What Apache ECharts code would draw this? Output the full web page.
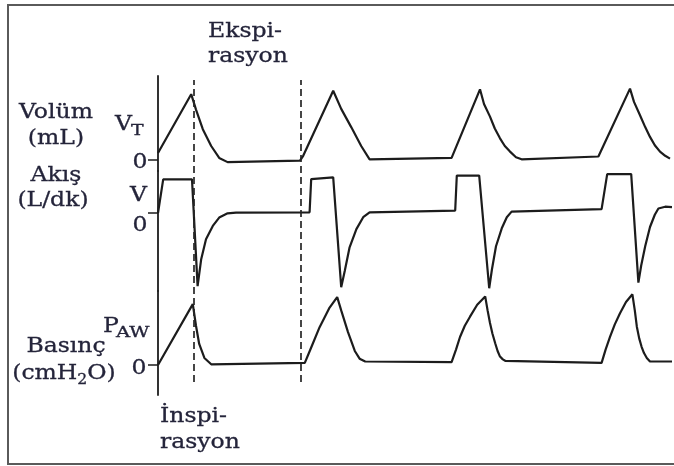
<!DOCTYPE html>
<html>
<head>
<meta charset="utf-8">
<script src="https://cdn.jsdelivr.net/npm/echarts@6/dist/echarts.min.js"></script>
<style>
  html, body { margin: 0; padding: 0; background: #ffffff; }
  #chart { width: 674px; height: 466px; }
</style>
</head>
<body>
<div id="chart"></div>
<script>
// Time base shared by all three traces (seconds)
const timeMax = 12.85;

// Volume trace, as a fraction of tidal volume V_T
const volumeTime  = [0, 0.83, 0.95, 1.12, 1.33, 1.53, 1.74, 3.55, 3.63, 4.38, 4.58, 4.83, 5.08, 5.29, 7.34, 8.05, 8.15, 8.3, 8.42, 8.55, 8.67, 8.8, 8.95, 9.09, 11.01, 11.8, 11.9, 12.05, 12.18, 12.3, 12.42, 12.55, 12.68, 12.8];
const volumeValue = [0.10, 0.94, 0.72, 0.44, 0.20, 0.03, -0.03, -0.01, 0.06, 0.99, 0.73, 0.47, 0.20, 0.01, 0.03, 1.01, 0.80, 0.62, 0.45, 0.31, 0.20, 0.12, 0.04, 0.01, 0.05, 1.02, 0.83, 0.64, 0.47, 0.33, 0.21, 0.12, 0.06, 0.02];

// Flow trace, as a fraction of the set inspiratory flow V
const flowTime  = [0, 0.13, 0.85, 0.99, 1.08, 1.2, 1.37, 1.53, 1.74, 1.95, 3.79, 3.83, 4.38, 4.58, 4.67, 4.79, 4.96, 5.13, 5.29, 7.43, 7.47, 8.03, 8.28, 8.35, 8.45, 8.6, 8.72, 8.84, 11.09, 11.23, 11.83, 12.01, 12.08, 12.18, 12.3, 12.42, 12.51, 12.68, 12.85];
const flowValue = [0, 0.96, 0.96, -2.09, -1.32, -0.75, -0.37, -0.13, -0.01, 0.01, 0.02, 0.97, 1.02, -2.12, -1.65, -0.98, -0.46, -0.12, 0.02, 0.07, 1.07, 1.07, -2.15, -1.6, -0.95, -0.42, -0.12, 0.04, 0.11, 1.11, 1.11, -1.99, -1.5, -0.95, -0.4, -0.05, 0.13, 0.18, 0.17];

// Airway pressure trace, as a fraction of peak P_AW
const pressureTime  = [0, 0.87, 0.95, 1.03, 1.16, 1.33, 3.67, 3.83, 4.04, 4.29, 4.48, 4.58, 4.75, 4.92, 5.04, 5.18, 7.34, 7.45, 7.55, 7.67, 7.8, 7.98, 8.18, 8.24, 8.3, 8.36, 8.43, 8.49, 8.55, 8.62, 8.68, 11.09, 11.19, 11.3, 11.42, 11.55, 11.7, 11.86, 11.92, 11.97, 12.03, 12.09, 12.15, 12.22, 12.3, 12.85];
const pressureValue = [0, 0.87, 0.56, 0.30, 0.10, 0.01, 0.03, 0.25, 0.54, 0.82, 0.97, 0.78, 0.47, 0.20, 0.09, 0.05, 0.04, 0.22, 0.40, 0.56, 0.69, 0.86, 0.98, 0.78, 0.60, 0.45, 0.31, 0.20, 0.12, 0.08, 0.06, 0.03, 0.22, 0.40, 0.58, 0.74, 0.90, 1.01, 0.78, 0.55, 0.38, 0.26, 0.17, 0.10, 0.05, 0.05];

// End of inspiration / start of next inspiration (seconds)
const phaseMarks = [0.9, 3.57];

const zip = (xs, ys) => xs.map((x, i) => [x, ys[i]]);

const ink = '#1c1c1c';
const textInk = '#24243a';
const serif = '"DejaVu Serif", "Liberation Serif", serif';
const font = (size) => size + 'px ' + serif;
const widen = 1.12;
const weight = 0.3;

const gridLeft = 158, gridWidth = 514;

function timeAxis(gridIndex) {
  return { type: 'value', gridIndex, min: 0, max: timeMax, show: false };
}

function levelAxis(gridIndex, min, max) {
  return {
    type: 'value', gridIndex, min, max,
    axisLine: { show: true, onZero: false, lineStyle: { color: ink, width: 1.8 } },
    axisTick: { show: true, customValues: [0], length: 10, lineStyle: { color: ink, width: 1.5 } },
    axisLabel: { show: false },
    splitLine: { show: false }
  };
}

function trace(idx, data) {
  return {
    type: 'line', xAxisIndex: idx, yAxisIndex: idx, data,
    showSymbol: false, silent: true,
    lineStyle: { color: ink, width: 2.2 }
  };
}

function label(text, x, y, align, size, sx, rich) {
  const style = {
    text, x: 0, y: 0, font: font(size || 21), fill: textInk,
    textAlign: align || 'center', textVerticalAlign: 'middle'
  };
  if (rich) {
    style.rich = rich;
  } else {
    style.stroke = textInk;
    style.lineWidth = weight;
  }
  return { type: 'text', silent: true, x, y, scaleX: sx || widen, scaleY: 1, style };
}

const subRich = {
  b: { fontSize: 21, fontFamily: serif, fill: textInk, stroke: textInk, lineWidth: weight },
  s: { fontSize: 14, fontFamily: serif, fill: textInk, stroke: textInk, lineWidth: weight, padding: [12, 0, 0, 0] }
};

const chart = echarts.init(document.getElementById('chart'), null, { renderer: 'canvas' });

chart.setOption({
  animation: false,
  backgroundColor: '#ffffff',
  grid: [
    { left: gridLeft, width: gridWidth, top: 76, height: 95 },
    { left: gridLeft, width: gridWidth, top: 171, height: 120 },
    { left: gridLeft, width: gridWidth, top: 291, height: 104 },
    { left: gridLeft, width: gridWidth, top: 80, height: 302 }
  ],
  xAxis: [timeAxis(0), timeAxis(1), timeAxis(2), timeAxis(3)],
  yAxis: [
    levelAxis(0, -0.157, 1.2),
    levelAxis(1, -2.229, 1.2),
    levelAxis(2, -0.429, 1.057),
    { type: 'value', gridIndex: 3, min: 0, max: 1, show: false }
  ],
  series: [
    trace(0, zip(volumeTime, volumeValue)),
    trace(1, zip(flowTime, flowValue)),
    trace(2, zip(pressureTime, pressureValue)),
    {
      type: 'line', xAxisIndex: 3, yAxisIndex: 3, data: [], silent: true,
      markLine: {
        silent: true, symbol: 'none', label: { show: false },
        lineStyle: { color: '#262626', width: 1.7, type: [7, 4] },
        data: phaseMarks.map(t => ({ xAxis: t }))
      }
    }
  ],
  graphic: [
    { type: 'rect', silent: true, shape: { x: 8, y: 5, width: 700, height: 459 },
      style: { fill: 'none', stroke: '#5a5a5a', lineWidth: 2 } },
    label('Ekspi-', 208, 32, 'left'),
    label('rasyon', 208, 57, 'left'),
    label('Volüm', 56, 113),
    label('(mL)', 56, 139),
    label('Akış', 56, 176),
    label('(L/dk)', 53, 201),
    label('V', 115, 125, 'left'),
    label('T', 131, 131, 'left', 14, 1.35),
    label('0', 140, 163),
    label('V', 130, 196, 'left'),
    label('0', 140, 226),
    label('P', 103, 327, 'left'),
    label('AW', 116, 333, 'left', 14, 1.4),
    label('Basınç', 66, 347),
    label('{b|(cmH}{s|2}{b|O)}', 64, 374, 'center', 21, widen, subRich),
    label('0', 139, 369),
    label('İnspi-', 160, 417, 'left'),
    label('rasyon', 160, 443, 'left')
  ]
});
</script>
</body>
</html>
